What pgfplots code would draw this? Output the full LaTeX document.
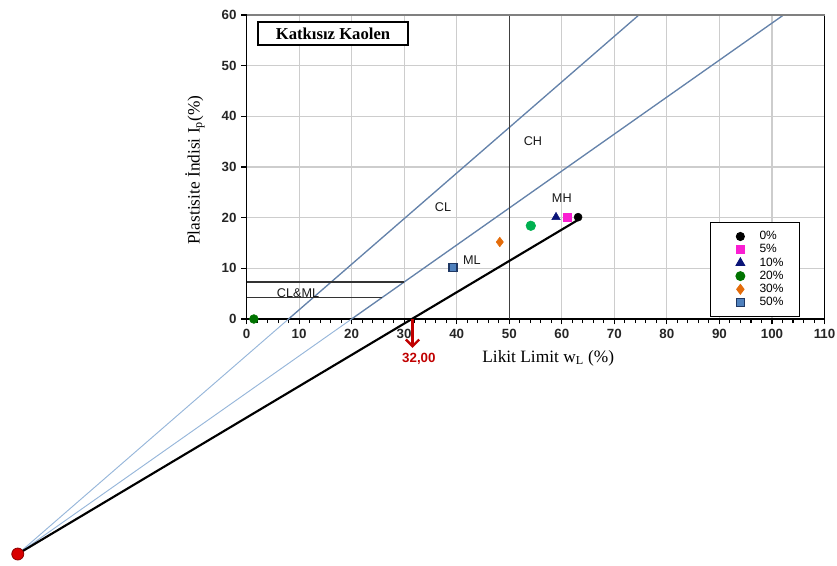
\documentclass[border=0pt]{standalone}
\usepackage{pgfplots}
\pgfplotsset{compat=1.18}
\usepackage{fontspec}
\setmainfont{Liberation Serif}
\setsansfont{Liberation Sans}
\usetikzlibrary{arrows.meta}
\definecolor{lineblue}{RGB}{100,130,170}
\definecolor{lightblue}{RGB}{150,182,218}
\definecolor{gridgray}{RGB}{205,205,205}
\definecolor{mygreen}{RGB}{0,176,80}
\definecolor{darkgreen}{RGB}{0,115,0}
\definecolor{myorange}{RGB}{228,108,10}
\definecolor{sqblue}{RGB}{79,129,189}
\definecolor{sqborder}{RGB}{31,56,100}
\definecolor{mynavy}{RGB}{10,20,120}
\definecolor{arrowred}{RGB}{192,0,0}
\definecolor{mymagenta}{RGB}{250,30,210}
\pgfplotsset{mylegend/.style={legend image code/.code={\path[draw=none,fill=none] (0cm,0cm) (0.8cm,0cm); \draw[##1] plot coordinates {(0.4cm,0cm)};}}}
\begin{document}
\begin{tikzpicture}
\begin{axis}[
  scale only axis, width=433.5pt, height=228pt,
  xmin=0, xmax=110, ymin=0, ymax=60,
  clip=false,
  axis line style={black, line width=0.9pt},
  xtick={0,10,...,110}, ytick={0,10,...,60},
  minor x tick num=4,
  tick pos=left, tick align=outside,
  major tick length=4pt, minor tick length=3pt,
  tick style={black, line width=0.8pt},
  grid=major, major grid style={gridgray, line width=0.8pt},
  /pgf/number format/assume math mode=true,
  tick label style={font=\sffamily\bfseries\fontsize{10}{12}\selectfont, text=black!85},
  xlabel={Likit Limit  w\textsubscript{L} (\%)},
  ylabel={Plastisite İndisi I\textsubscript{p}(\%)},
  label style={font=\fontsize{13}{15}\selectfont},
  xlabel style={at={(axis description cs:0.522,-0.128)}, anchor=center},
  ylabel style={at={(axis description cs:-0.089,0.49)}, anchor=center},
  legend style={at={(axis cs:88.2,19.14)}, anchor=north west, draw=black, line width=0.8pt, fill=white,
    font=\sffamily\fontsize{9}{10}\selectfont, inner xsep=11pt, inner ysep=5.5pt, column sep=2pt,
    nodes={inner sep=1pt, text height=6.3pt, text depth=1.6pt}},
  legend cell align=left,
]
% reference lines
\addplot[lightblue, line width=0.7pt, forget plot] coordinates {(-43.53,-46.38) (8,0)};
\addplot[lineblue, line width=1pt, forget plot] coordinates {(8,0) (74.67,60)};
\addplot[lightblue, line width=0.7pt, forget plot] coordinates {(-43.53,-46.38) (20,0)};
\addplot[lineblue, line width=1pt, forget plot] coordinates {(20,0) (102.19,60)};
\addplot[black!80, line width=0.8pt, forget plot] coordinates {(0,7.3) (30,7.3)};
\addplot[black!80, line width=0.8pt, forget plot] coordinates {(0,4.2) (25.75,4.2)};
\addplot[black!75, line width=1.1pt, forget plot] coordinates {(50,0) (50,60)};
\addplot[black, line width=1.6pt, forget plot] coordinates {(-43.53,-46.38) (63.0,19.5)};
\addplot[only marks, mark=*, mark size=4.5pt, fill=red!85!black, draw=red!55!black, line width=0.6pt, forget plot] coordinates {(-43.53,-46.38)};
% data
\addplot[only marks, mylegend, mark=*, mark size=3pt, black] coordinates {(63.1,20.1)};
\addlegendentry{0\%}
\addplot[only marks, mylegend, mark=square*, mark size=3pt, mymagenta] coordinates {(61.0,20.1)};
\addlegendentry{5\%}
\addplot[only marks, mylegend, mark=triangle*, mark size=3.6pt, mynavy] coordinates {(58.9,20.1)};
\addlegendentry{10\%}
\addplot[only marks, mylegend, mark=*, mark size=3.3pt, darkgreen] coordinates {(1.4,0)};
\addlegendentry{20\%}
\addplot[only marks, mylegend, mark=diamond*, mark size=3.6pt, myorange] coordinates {(48.2,15.2)};
\addlegendentry{30\%}
\addplot[only marks, mylegend, mark=square*, mark size=3pt, draw=sqborder, fill=sqblue, line width=1pt] coordinates {(39.3,10.1)};
\addlegendentry{50\%}
\addplot[only marks, mark=*, mark size=3.6pt, mygreen, forget plot] coordinates {(54.1,18.4)};
% top border gray
\draw[gray, line width=1pt] (axis cs:0,60) -- (axis cs:110,60);
% zone labels
\node[font=\sffamily\fontsize{9.5}{11}\selectfont, text=black!90] at (axis cs:54.5,35.1) {CH};
\node[font=\sffamily\fontsize{9.5}{11}\selectfont, text=black!90] at (axis cs:37.4,22.1) {CL};
\node[font=\sffamily\fontsize{9.5}{11}\selectfont, text=black!90] at (axis cs:60.0,23.9) {MH};
\node[font=\sffamily\fontsize{9.5}{11}\selectfont, text=black!90] at (axis cs:42.9,11.6) {ML};
\node[font=\sffamily\fontsize{9.5}{11}\selectfont, text=black!90] at (axis cs:9.8,5.1) {CL\&ML};
% title box
\node[draw=black, line width=1pt, fill=white, minimum width=112.5pt, minimum height=17.25pt, inner sep=0pt,
  font=\bfseries\fontsize{12.5}{14}\selectfont] at (axis cs:16.46,56.35) {Katkısız Kaolen};
% arrow
\draw[arrowred, line width=1.8pt, -{Straight Barb[length=5pt,width=10pt]}] (axis cs:31.6,0) -- (axis cs:31.6,-5.7);
\node[text=arrowred, font=\sffamily\bfseries\fontsize{10}{12}\selectfont] at (axis cs:32.8,-7.9) {32,00};
\coordinate (bbsw) at (axis cs:-46.91,-48.55);
\coordinate (bbne) at (axis cs:112.37,62.96);
\end{axis}
\pgfresetboundingbox
\path[use as bounding box] (bbsw) rectangle (bbne);
\end{tikzpicture}
\end{document}
